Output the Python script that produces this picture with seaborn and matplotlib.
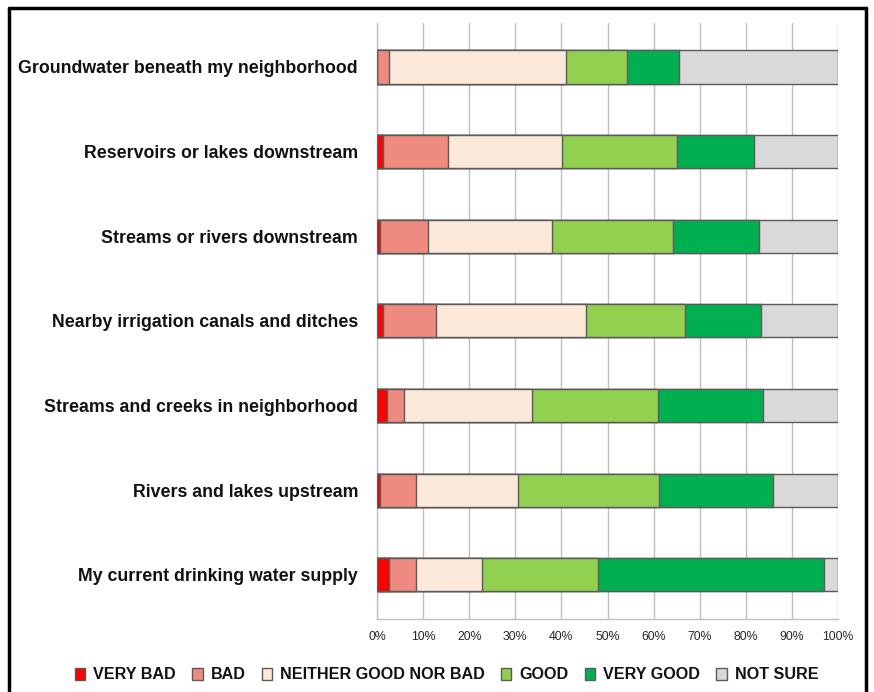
import matplotlib
matplotlib.use("Agg")
import matplotlib.pyplot as plt
from matplotlib.lines import Line2D
from matplotlib.patches import Patch
import seaborn as sns
import pandas as pd
import numpy as np

categories = [
    "Groundwater beneath my neighborhood",
    "Reservoirs or lakes downstream",
    "Streams or rivers downstream",
    "Nearby irrigation canals and ditches",
    "Streams and creeks in neighborhood",
    "Rivers and lakes upstream",
    "My current drinking water supply",
]
very_bad = [0.0, 1.2, 0.6, 1.2, 2.2, 0.6, 2.7]
bad = [2.7, 14.3, 10.5, 11.5, 3.7, 7.9, 5.8]
neither = [38.4, 24.7, 26.9, 32.6, 27.8, 22.1, 14.2]
good = [13.2, 24.8, 26.2, 21.6, 27.3, 30.6, 25.2]
very_good = [11.1, 16.8, 18.6, 16.3, 22.8, 24.6, 49.1]
not_sure = [34.6, 18.2, 17.2, 16.8, 16.2, 14.2, 3.0]

series_names = ["VERY BAD", "BAD", "NEITHER GOOD NOR BAD", "GOOD", "VERY GOOD", "NOT SURE"]
colors = ["#FF0000", "#EF8A80", "#FDE9DA", "#92D050", "#00B050", "#D9D9D9"]

df = pd.DataFrame({
    "category": categories,
    "VERY BAD": very_bad,
    "BAD": bad,
    "NEITHER GOOD NOR BAD": neither,
    "GOOD": good,
    "VERY GOOD": very_good,
    "NOT SURE": not_sure,
})
# normalise each row to 100%
vals = df[series_names].to_numpy()
vals = vals / vals.sum(axis=1, keepdims=True) * 100
cum = np.cumsum(vals, axis=1)

font_list = ["Liberation Sans", "DejaVu Sans"]
sns.set_style("white")
plt.rcParams["font.family"] = font_list

fig = plt.figure(figsize=(8.74, 6.92), dpi=100)
ax = fig.add_axes([0.4314, 0.1055, 0.5274, 0.8613])

# stacked bars: draw cumulative totals from the longest to the shortest
for i in range(len(series_names) - 1, -1, -1):
    sns.barplot(x=cum[:, i], y=categories, orient="h", color=colors[i],
                edgecolor="#5a5a5a", linewidth=1.0, width=0.39, ax=ax,
                saturation=1, zorder=3)

ax.set_xlim(0, 100)
ax.set_ylim(6.52, -0.52)
ax.set_xticks(np.arange(0, 101, 10))
ax.set_xticklabels([f"{t}%" for t in range(0, 101, 10)], fontsize=8.8, color="#262626")
ax.set_xlabel("")
ax.set_ylabel("")
ax.grid(axis="x", color="#bfbfbf", linewidth=1.0, zorder=0)
ax.set_axisbelow(True)
ax.tick_params(axis="x", length=3, color="#bfbfbf", pad=6)
ax.tick_params(axis="y", length=0, pad=13.7)
ax.set_yticks(np.arange(-0.5, 7, 1), minor=True)
ax.tick_params(axis="y", which="minor", length=5, color="#bfbfbf")
for lab in ax.get_yticklabels():
    lab.set_fontweight("bold")
    lab.set_fontsize(12.8)
    lab.set_color("#111111")

for s in ["top", "right"]:
    ax.spines[s].set_visible(False)
for s in ["left", "bottom"]:
    ax.spines[s].set_color("#bfbfbf")
    ax.spines[s].set_linewidth(1.0)

handles = [Patch(facecolor=c, edgecolor="#5a5a5a", linewidth=1.0) for c in colors]
leg = fig.legend(handles, series_names, loc="center", bbox_to_anchor=(0.511, 0.0246),
                 ncol=6, frameon=False, handlelength=0.65, handleheight=0.8,
                 handletextpad=0.5, columnspacing=1.0, borderpad=0,
                 prop={"family": font_list, "weight": "bold", "size": 11.6})
for t in leg.get_texts():
    t.set_color("#111111")

# outer frame
kw = dict(color="black", linewidth=2.5, transform=fig.transFigure)
fig.add_artist(Line2D([0.010, 0.010], [0.0, 0.988], **kw))
fig.add_artist(Line2D([0.991, 0.991], [0.0, 0.988], **kw))
fig.add_artist(Line2D([0.010, 0.991], [0.988, 0.988], **kw))

fig.savefig("out.png", dpi=100)
